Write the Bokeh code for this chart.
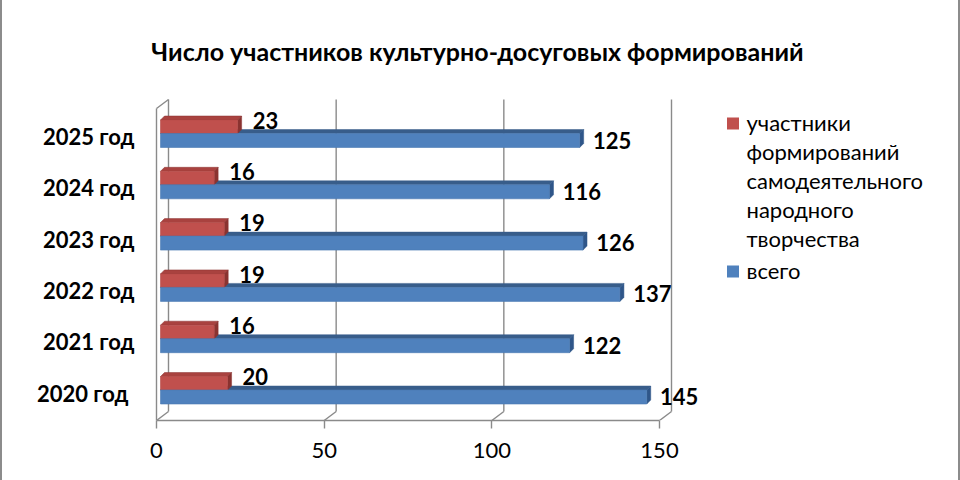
from bokeh.plotting import figure
from bokeh.models import Range1d, FixedTicker, ColumnDataSource, Label
from bokeh.core.properties import value
from bokeh.embed import file_html
from bokeh.resources import INLINE

# ---------------- data ----------------
years = ["2020 год", "2021 год", "2022 год", "2023 год", "2024 год", "2025 год"]
participants = [20, 16, 19, 19, 16, 23]      # участники формирований самодеятельного народного творчества
total = [145, 122, 137, 126, 116, 125]        # всего
x_ticks = [0, 50, 100, 150]
title_text = "Число участников культурно-досуговых  формирований"
legend_labels = ["участники\nформирований\nсамодеятельного\nнародного\nтворчества", "всего"]

# ---------------- layout / style ----------------
W, H = 960, 480
BOTTOM = 60
PX = 503 / 150.0            # pixels per value unit
X0 = 156                    # canvas px of value 0
FONT = "Lato"
RED, RED_TOP, RED_SIDE = "#C0504D", "#A9423F", "#8A3330"
BLUE, BLUE_TOP, BLUE_SIDE = "#4F81BD", "#385D8A", "#2F5689"
GRID = "#8A8A8A"

Y_FIRST, STEP = 30.5, 51.3  # red/blue boundary of first category (px above floor), category step
RED_H, BLUE_H = 13.5, 14.0
SHIFT = 4 / PX              # bars start slightly behind the front plane
BDX, BDY = 4 / PX, 4.0      # bar depth
FDX, FDY = 12 / PX, 9.0     # floor depth
WALL_FRONT_TOP, WALL_BACK_TOP = 312.0, 321.0

def xd(abs_x):
    return (abs_x - X0) / PX

def yd(abs_y):
    return (H - BOTTOM) - abs_y

p = figure(width=W, height=H, output_backend="svg", toolbar_location=None,
           x_range=Range1d(-X0 / PX, (W - X0) / PX), y_range=Range1d(0, H - BOTTOM),
           y_axis_location=None, min_border_left=0, min_border_right=0,
           min_border_top=0, min_border_bottom=BOTTOM)
p.outline_line_color = None
p.background_fill_color = None
p.border_fill_color = None
for g in p.grid:
    g.visible = False
p.styles = {"box-shadow": "inset 2px 0 0 #8c8c8c, inset -2px 0 0 #8c8c8c"}

# ---------------- 3D walls / grid ----------------
xmax = max(x_ticks)
gx, gy = [], []
for t in x_ticks:
    gx.append([t + FDX, t + FDX]); gy.append([FDY, WALL_BACK_TOP])   # back-wall gridline
    gx.append([t, t + FDX]); gy.append([0, FDY])                     # floor diagonal
gx.append([0, 0]); gy.append([0, WALL_FRONT_TOP])                    # side wall front edge
gx.append([0, FDX]); gy.append([WALL_FRONT_TOP, WALL_BACK_TOP])      # side wall top
p.multi_line(gx, gy, line_color=GRID, line_width=1.4)

# ---------------- bars ----------------
n = len(years)
yb = [Y_FIRST + STEP * i for i in range(n)]

def faces(vals, y_bottom, h):
    tx, ty, sx, sy = [], [], [], []
    for v, b in zip(vals, y_bottom):
        x0, x1, top = SHIFT, SHIFT + v, b + h
        tx.append([x0, x1, x1 + BDX, x0 + BDX]); ty.append([top, top, top + BDY, top + BDY])
        sx.append([x1, x1 + BDX, x1 + BDX, x1]); sy.append([top, top + BDY, b + BDY, b])
    return tx, ty, sx, sy

blue_bottom = [b - BLUE_H for b in yb]
btx, bty, bsx, bsy = faces(total, blue_bottom, BLUE_H)
rtx, rty, rsx, rsy = faces(participants, yb, RED_H)

p.patches(btx, bty, fill_color=BLUE_TOP, line_color=BLUE_TOP, line_width=0.5)
p.patches(bsx, bsy, fill_color=BLUE_SIDE, line_color=BLUE_SIDE, line_width=0.5)
p.patches(rtx, rty, fill_color=RED_TOP, line_color=RED_SIDE, line_width=0.5)
p.patches(rsx, rsy, fill_color=RED_SIDE, line_color=RED_SIDE, line_width=0.5)

src = ColumnDataSource(dict(
    yr=[b + RED_H / 2 for b in yb], yblue=[b - BLUE_H / 2 for b in yb],
    left=[SHIFT] * n, red_right=[SHIFT + v for v in participants],
    blue_right=[SHIFT + v for v in total],
    red_lbl=[str(v) for v in participants], blue_lbl=[str(v) for v in total],
    red_lx=[SHIFT + v + 15 / PX for v in participants],
    blue_lx=[SHIFT + v + 13.3 / PX for v in total],
    red_ly=[b + RED_H / 2 + 6.5 for b in yb],
    blue_ly=[b - BLUE_H / 2 + 0.5 for b in yb],
    cat=years, cat_y=[b - 3 for b in yb], cat_x=[xd(134)] * n,
    cat_dx=[-6, 0, 0, 0, 0, 0],
))
p.hbar(y="yr", left="left", right="red_right", height=RED_H, source=src,
       fill_color=RED, line_color="#B54946", line_width=0.6)
p.hbar(y="yblue", left="left", right="blue_right", height=BLUE_H, source=src,
       fill_color=BLUE, line_color="#4A79B2", line_width=0.6)

# value labels
p.text(x="red_lx", y="red_ly", text="red_lbl", source=src, text_font=value(FONT),
       text_font_style="bold", text_font_size="22px", text_baseline="middle",
       text_align="left", text_color="black")
p.text(x="blue_lx", y="blue_ly", text="blue_lbl", source=src, text_font=value(FONT),
       text_font_style="bold", text_font_size="22px", text_baseline="middle",
       text_align="left", text_color="black")

# category labels
p.text(x="cat_x", y="cat_y", text="cat", x_offset="cat_dx", source=src, text_font=value(FONT),
       text_font_style="bold", text_font_size="22px", text_baseline="middle",
       text_align="right", text_color="black")

# ---------------- x axis (front floor edge) ----------------
ax = p.xaxis[0]
ax.ticker = FixedTicker(ticks=x_ticks)
ax.bounds = (min(x_ticks), xmax)
ax.axis_line_color = GRID
ax.axis_line_width = 1.4
ax.major_tick_line_color = GRID
ax.major_tick_line_width = 1.4
ax.major_tick_out = 8
ax.major_tick_in = 0
ax.minor_tick_line_color = None
ax.major_label_standoff = 14
ax.major_label_text_font = FONT
ax.major_label_text_font_size = "22px"
ax.major_label_text_color = "black"

# ---------------- title ----------------
p.add_layout(Label(x=xd(480), y=yd(50), text=title_text, text_font=FONT,
                   text_font_style="bold", text_font_size="25px", text_align="center",
                   text_baseline="middle", text_color="black"))

# ---------------- legend ----------------
leg_colors = [RED, BLUE]
sq_x, sq_y, sq_c = [], [], []
lx, ly, lt = [], [], []
line_y = 122.0
for lab, c in zip(legend_labels, leg_colors):
    lines = lab.split("\n")
    sq_x.append(xd(732.5)); sq_y.append(yd(line_y + 1)); sq_c.append(c)
    for ln in lines:
        lx.append(xd(746)); ly.append(yd(line_y)); lt.append(ln)
        line_y += 29
    line_y += 3
p.rect(sq_x, sq_y, width=12, height=12, width_units="screen", height_units="screen",
       fill_color=sq_c, line_color=None)
p.text(lx, ly, text=lt, text_font=value(FONT), text_font_size="22px",
       text_baseline="middle", text_align="left", text_color="black")

open("out.html", "w").write(file_html(p, INLINE))
